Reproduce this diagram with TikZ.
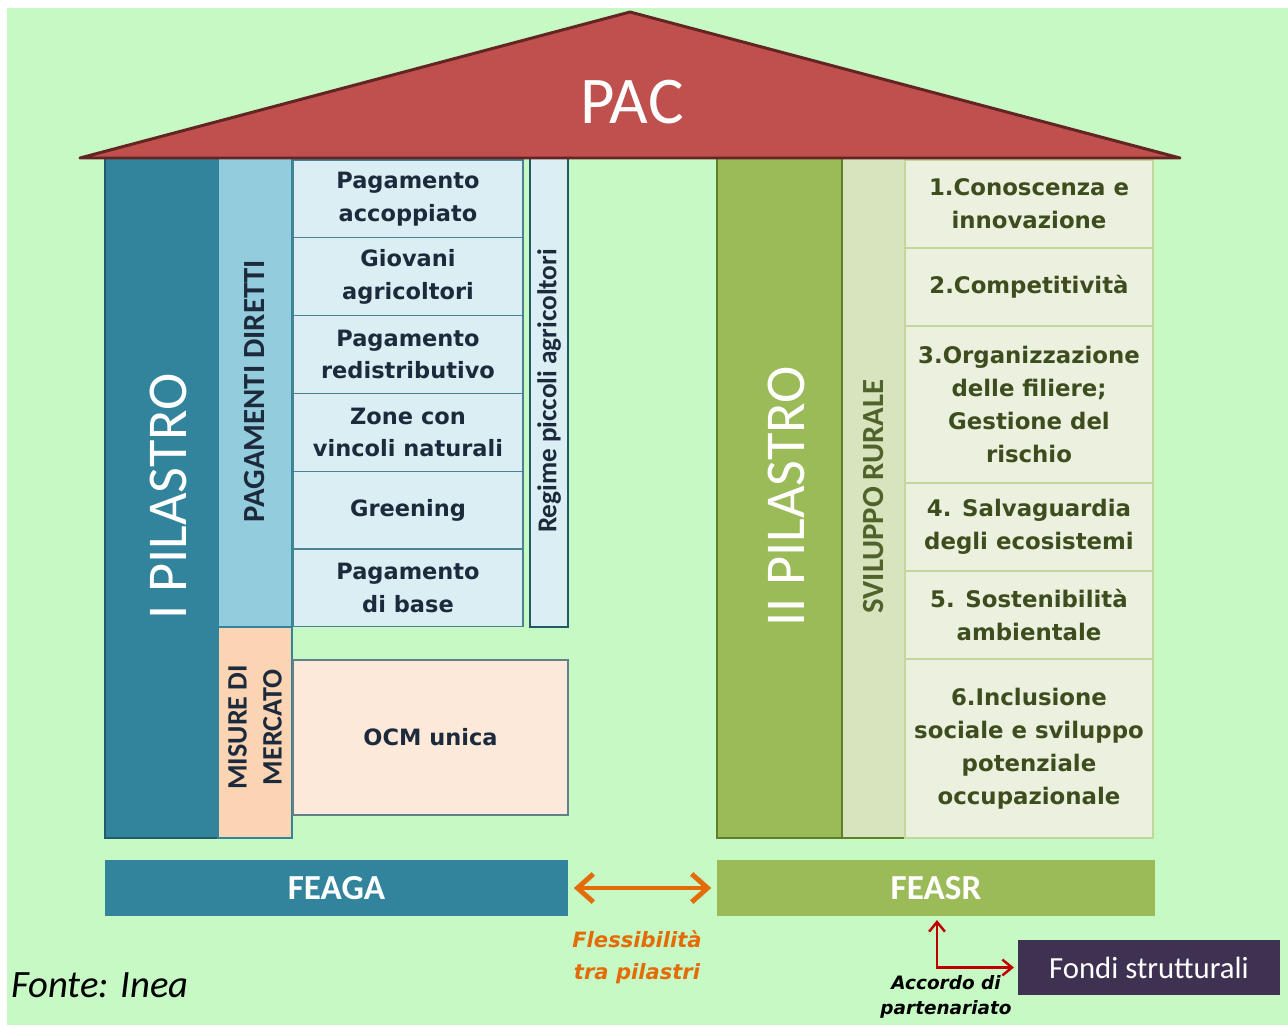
\documentclass[tikz,border=0pt]{standalone}
\usepackage{fontspec}
\setmainfont{DejaVu Sans}
\newfontfamily\calfont{Carlito}
\usetikzlibrary{fit,arrows.meta}

\definecolor{bggreen}{HTML}{C6F9C3}
\definecolor{roofred}{HTML}{C0504D}
\definecolor{roofdark}{HTML}{632523}
\definecolor{teal}{HTML}{31849B}
\definecolor{tealdark}{HTML}{215967}
\definecolor{lightblue}{HTML}{93CDDD}
\definecolor{paleblue}{HTML}{DAEEF3}
\definecolor{navytext}{HTML}{1C2A3C}
\definecolor{peach}{HTML}{FBD4B4}
\definecolor{palepeach}{HTML}{FDE9D9}
\definecolor{olive}{HTML}{9BBB59}
\definecolor{olivedark}{HTML}{5F7F2A}
\definecolor{sage}{HTML}{D7E4BD}
\definecolor{palesage}{HTML}{EBF1DE}
\definecolor{sageline}{HTML}{C3D69B}
\definecolor{olivetext}{HTML}{3D4D1E}
\definecolor{purple}{HTML}{3F3151}
\definecolor{flexorange}{HTML}{E36C09}
\definecolor{accred}{HTML}{C00000}

\tikzset{
  block/.style={inner sep=0pt, line width=0.6pt},
  pillar/.style={block, draw=#1!70!black, fill=#1},
  bigtext/.style={rotate=90, text=white, font=\calfont\fontsize{32}{36}\selectfont},
  sidetext/.style={rotate=90, font=\calfont\bfseries\fontsize{17.5}{20}\selectfont},
  leftcell/.style={block, draw=teal!70!gray, fill=paleblue},
  lefttext/.style={align=center, text=navytext, font=\bfseries\fontsize{12.8}{18.5}\selectfont},
  rightcell/.style={block, draw=sageline, fill=palesage},
  righttext/.style={align=center, text=olivetext, font=\bfseries\fontsize{13}{18.7}\selectfont},
  fundtext/.style={text=white, font=\calfont\bfseries\fontsize{20}{24}\selectfont},
}

\begin{document}
\begin{tikzpicture}[x=0.02cm, y=-0.02cm]
\useasboundingbox (0,0) rectangle (1288,1025);
\fill[white] (0,0) rectangle (1288,1025);
\fill[bggreen] (7,8) rectangle (1288,1025);

% primo pilastro
\node[pillar=teal, fit={(105,155) (218,838)}] (pil1) {};
\node[bigtext] at ([xshift=4]pil1.center) {I PILASTRO};
\node[block, draw=teal, fill=lightblue, fit={(218,155) (292,627)}] (diretti) {};
\node[sidetext, text=navytext] at (diretti.center) {PAGAMENTI DIRETTI};
\foreach \txt [count=\i] in {{Pagamento\\accoppiato}, {Giovani\\agricoltori},
    {Pagamento\\redistributivo}, {Zone con\\vincoli naturali}, {Greening},
    {Pagamento\\di base}}
{
  \node[leftcell, fit={(293,{160+(\i-1)*77.8}) (523,{160+\i*77.8})}] (pd\i) {};
  \node[lefttext] at (pd\i.center) {\txt};
}
\node[block, draw=tealdark, line width=1.2pt, fill=paleblue, fit={(530,155) (568,627)}] (regime) {};
\node[rotate=90, text=navytext, font=\calfont\bfseries\fontsize{15.5}{18}\selectfont]
  at (regime.center) {Regime piccoli agricoltori};
\node[block, draw=teal, fill=peach, fit={(218,627) (292,838)}] (misure) {};
\node[sidetext, text=navytext, align=center, font=\calfont\bfseries\fontsize{16}{20}\selectfont]
  at ([yshift=3]misure.center) {MISURE DI\\MERCATO};
\node[block, draw=gray!60!teal, fill=palepeach, fit={(293,660) (568,815)}] (ocm) {};
\node[lefttext, font=\bfseries\fontsize{12.8}{15}\selectfont] at (ocm.center) {OCM unica};

% secondo pilastro
\node[pillar=olive, draw=olivedark, fit={(717,155) (842,838)}] (pil2) {};
\node[bigtext] at ([xshift=4]pil2.center) {II PILASTRO};
\node[block, draw=olivedark, fill=sage, fit={(842,155) (905,838)}] (rurale) {};
\node[sidetext, text=olivetext!80!olive] at (rurale.center) {SVILUPPO RURALE};
\foreach \top/\bot/\txt [count=\i] in {160/248/{1.Conoscenza e\\innovazione},
    248/326/{2.Competitività},
    326/483/{3.Organizzazione\\delle filiere;\\Gestione del\\rischio},
    483/571/{4. Salvaguardia\\degli ecosistemi},
    571/659/{5. Sostenibilità\\ambientale},
    659/838/{6.Inclusione\\sociale e sviluppo\\potenziale\\occupazionale}}
{
  \node[rightcell, fit={(905,\top) (1153,\bot)}] (sr\i) {};
  \node[righttext] at (sr\i.center) {\txt};
}

% tetto
\draw[fill=roofred, draw=roofdark, line width=1.7pt, line join=round]
  (80,158) -- (630,12) -- (1180,158) -- cycle;
\node[text=white, font=\calfont\fontsize{38}{42}\selectfont] (pac) at (632,102) {PAC};

% fondi
\node[block, fill=teal, fit={(105,860) (568,916)}] (feaga) {};
\node[fundtext] at (feaga.center) {FEAGA};
\node[block, fill=olive, fit={(717,860) (1155,916)}] (feasr) {};
\node[fundtext] at (feasr.center) {FEASR};
\node[block, fill=purple, fit={(1018,940) (1280,995)}] (fondi) {};
\node[text=white, font=\calfont\fontsize{17.5}{20}\selectfont] at (fondi.center) {Fondi strutturali};

\draw[flexorange, line width=2.8pt, {Straight Barb[length=9pt,width=16pt]}-{Straight Barb[length=9pt,width=16pt]}]
  ([xshift=3]feaga.east) -- ([xshift=-3]feasr.west);
\node[flexorange, align=center, font=\bfseries\itshape\fontsize{12}{18.5}\selectfont]
  (flex) at (637,957) {Flessibilità\\tra pilastri};

\coordinate (acc) at (937,967);
\draw[accred, line width=1.4pt, {Straight Barb[length=5.5pt,width=9pt]}-{Straight Barb[length=5.5pt,width=9pt]}]
  ([yshift=-2]feasr.south -| acc) |- ([xshift=-2]fondi.west);
\node[align=center, font=\bfseries\itshape\fontsize{10.5}{14}\selectfont]
  (accordo) at (946,997) {Accordo di\\partenariato};

\node[anchor=west, font=\calfont\itshape\fontsize{22}{24}\selectfont] (fonte) at (5,985) {Fonte: Inea};
\end{tikzpicture}
\end{document}
